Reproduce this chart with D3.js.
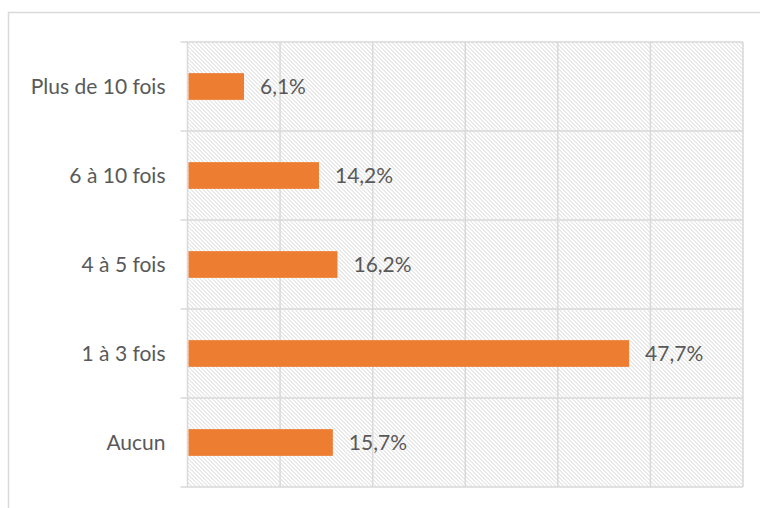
<!DOCTYPE html>
<html lang="fr">
<head>
<meta charset="utf-8">
<script src="https://d3js.org/d3.v7.min.js"></script>
<style>
    body { margin: 0; background: #fff; }
    text { font-family: Lato, 'Open Sans', sans-serif; fill: #595959; }
</style>
</head>
<body>
<svg width="760" height="508"></svg>
<script>
// data
var categories = ["Plus de 10 fois", "6 à 10 fois", "4 à 5 fois", "1 à 3 fois", "Aucun"];
var values = [6.1, 14.2, 16.2, 47.7, 15.7];
var xTicks = [0, 10, 20, 30, 40, 50, 60];

var svg = d3.select("svg"),
    margin = {top: 42, right: 17, bottom: 21, left: 187.5},
    width = +svg.attr("width") - margin.left - margin.right,
    height = +svg.attr("height") - margin.top - margin.bottom;

// outer chart frame (runs off the right and bottom edges)
svg.append("rect")
    .attr("x", 8.5).attr("y", 12.5)
    .attr("width", 800).attr("height", 600)
    .attr("fill", "none")
    .attr("stroke", "#d9d9d9")
    .attr("stroke-width", 1.5);

// hatch pattern for the plot area
var defs = svg.append("defs");
var pat = defs.append("pattern")
    .attr("id", "hatch")
    .attr("patternUnits", "userSpaceOnUse")
    .attr("width", 4).attr("height", 4);
[0, 1, 2, 3].forEach(function(i) {
    pat.append("rect")
        .attr("x", i).attr("y", i)
        .attr("width", 1).attr("height", 1)
        .attr("fill", "#d4d4d4");
});

var g = svg.append("g").attr("transform", "translate(" + margin.left + "," + margin.top + ")");

var x = d3.scaleLinear().domain([0, 60]).range([0, width]);
var y = d3.scaleBand().domain(categories).range([0, height]).paddingInner(0.7).paddingOuter(0.35);
var yb = d3.scaleBand().domain(categories).range([0, height]);

g.append("rect")
    .attr("width", width).attr("height", height)
    .attr("fill", "url(#hatch)");

// vertical gridlines
g.selectAll(".vgrid")
    .data(xTicks)
    .enter().append("line")
    .attr("x1", function(d) { return x(d); })
    .attr("x2", function(d) { return x(d); })
    .attr("y1", 0).attr("y2", height)
    .attr("stroke", "#d9d9d9")
    .attr("stroke-width", 1.5);

// horizontal lines between categories
var bounds = categories.map(function(c) { return yb(c); }).concat([height]);
g.selectAll(".hgrid")
    .data(bounds)
    .enter().append("line")
    .attr("x1", -7).attr("x2", width)
    .attr("y1", function(d) { return d; })
    .attr("y2", function(d) { return d; })
    .attr("stroke", "#d9d9d9")
    .attr("stroke-width", 1.5);

// bars
g.selectAll(".bar")
    .data(values)
    .enter().append("rect")
    .attr("x", x(0) + 1)
    .attr("y", function(d, i) { return y(categories[i]); })
    .attr("width", function(d) { return x(d) - x(0) - 1; })
    .attr("height", y.bandwidth())
    .attr("fill", "#ED7D31");

// value labels
g.selectAll(".val")
    .data(values)
    .enter().append("text")
    .attr("x", function(d) { return x(d) + 16; })
    .attr("y", function(d, i) { return yb(categories[i]) + yb.bandwidth() / 2; })
    .attr("dy", "0.35em")
    .style("font-size", "21px")
    .text(function(d) { return String(d.toFixed(1)).replace(".", ",") + "%"; });

// category labels
g.selectAll(".cat")
    .data(categories)
    .enter().append("text")
    .attr("x", -22)
    .attr("y", function(d) { return yb(d) + yb.bandwidth() / 2; })
    .attr("dy", "0.35em")
    .attr("text-anchor", "end")
    .style("font-size", "21px")
    .text(function(d) { return d; });
</script>
</body>
</html>
